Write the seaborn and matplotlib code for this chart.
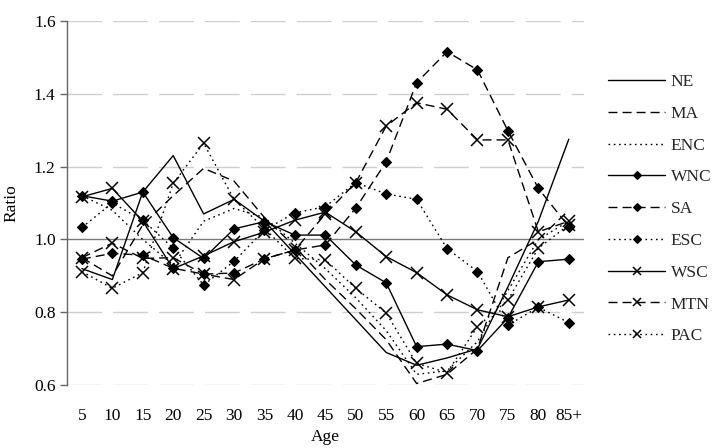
import matplotlib
matplotlib.use("Agg")
import matplotlib.pyplot as plt
import seaborn as sns

ages = ['5', '10', '15', '20', '25', '30', '35', '40', '45', '50', '55', '60', '65', '70', '75', '80', '85+']

NE  = [0.92, 0.89, 1.13, 1.23, 1.07, 1.11, 1.05, 0.96, 0.87, 0.78, 0.69, 0.655, 0.675, 0.70, 0.87, 1.05, 1.275]
MA  = [0.95, 0.90, 1.04, 1.12, 1.195, 1.16, 1.06, 0.98, 0.89, 0.81, 0.725, 0.605, 0.63, 0.70, 0.95, 1.00, 1.08]
ENC = [1.12, 1.08, 1.00, 0.93, 1.05, 1.085, 1.06, 0.99, 0.92, 0.84, 0.75, 0.63, 0.64, 0.72, 0.86, 1.00, 1.05]
WNC = [1.12, 1.105, 1.13, 1.005, 0.948, 1.029, 1.049, 1.012, 1.012, 0.93, 0.881, 0.706, 0.713, 0.695, 0.785, 0.939, 0.946]
SA  = [0.946, 0.962, 0.957, 0.921, 0.905, 0.908, 0.947, 0.971, 0.985, 1.086, 1.213, 1.43, 1.515, 1.465, 1.298, 1.14, 1.035]
ESC = [1.033, 1.10, 1.053, 0.976, 0.875, 0.94, 1.026, 1.073, 1.09, 1.156, 1.125, 1.11, 0.975, 0.912, 0.765, 0.814, 0.772]
WSC = [1.117, 1.14, 1.05, 0.92, 0.955, 0.994, 1.02, 1.053, 1.075, 1.021, 0.953, 0.909, 0.848, 0.807, 0.788, 0.815, 0.834]
MTN = [0.95, 0.99, 0.948, 0.95, 0.905, 0.89, 0.947, 0.971, 1.07, 1.156, 1.311, 1.375, 1.357, 1.273, 1.273, 1.021, 1.05]
PAC = [0.912, 0.866, 0.909, 1.154, 1.264, 1.11, 1.03, 0.948, 0.944, 0.866, 0.798, 0.66, 0.635, 0.761, 0.834, 0.976, 1.04]

series_names = ['NE', 'MA', 'ENC', 'WNC', 'SA', 'ESC', 'WSC', 'MTN', 'PAC']
series_vals = [NE, MA, ENC, WNC, SA, ESC, WSC, MTN, PAC]

sns.set_theme(style="white")
plt.rcParams['font.family'] = ['Liberation Serif', 'DejaVu Serif']

solid = '-'
dashed = (0, (6.5, 3.6))
dotted = (0, (1.2, 2.6))
styles = [solid, dashed, dotted] * 3
markers = [None, None, None, 'D', 'D', 'D', 'x', 'x', 'x']

fig = plt.figure(figsize=(7.24, 4.48), dpi=100)
ax = fig.add_axes([66.7 / 724, 1 - 385.3 / 448, (584 - 66.7) / 724, (385.3 - 20.7) / 448])

for name, vals, ls, mk in zip(series_names, series_vals, styles, markers):
    kw = dict(color='black', linewidth=1.0, linestyle=ls)
    if mk == 'D':
        kw.update(marker='D', markersize=5.5, markeredgecolor='black',
                  markerfacecolor='black', markeredgewidth=0.8)
    elif mk == 'x':
        kw.update(marker='x', markersize=8, markeredgecolor='black',
                  markeredgewidth=1.1)
    sns.lineplot(x=ages, y=vals, ax=ax, sort=False, label=name, **kw)

ax.set_xlim(-0.5, len(ages) - 0.5)
ax.set_ylim(0.6, 1.6)
ax.set_yticks([0.6, 0.8, 1.0, 1.2, 1.4, 1.6])
ax.set_yticklabels(['0.6', '0.8', '1.0', '1.2', '1.4', '1.6'])

for y in [0.6, 0.8, 1.2, 1.4, 1.6]:
    ax.axhline(y, color='#cfcfcf', linewidth=1.0, linestyle=(0, (25, 8)), zorder=0)
ax.axhline(1.0, color='#7a7a7a', linewidth=1.0, zorder=0.5)

for s in ['top', 'right', 'bottom']:
    ax.spines[s].set_visible(False)
ax.spines['left'].set_color('#666666')
ax.spines['left'].set_linewidth(1.0)

ax.tick_params(axis='y', which='major', left=True, length=5, width=1.0, color='#666666',
               labelsize=12.5, labelcolor='black', pad=3, direction='out')
ax.tick_params(axis='x', which='major', bottom=False, labelsize=12.5, labelcolor='black', pad=10)

ax.set_ylabel('Ratio', fontsize=12.5, color='black', labelpad=10)
ax.set_xlabel('Age', fontsize=12.5, color='black', labelpad=4)

handles, labels = ax.get_legend_handles_labels()
leg = ax.legend(handles, labels, loc='upper left', bbox_to_anchor=(1.033, 0.873),
                frameon=False, fontsize=12.5, handlelength=3.3, handletextpad=0.3,
                labelspacing=0.9, borderaxespad=0, markerscale=0.75)

fig.savefig('out.png', dpi=100)
